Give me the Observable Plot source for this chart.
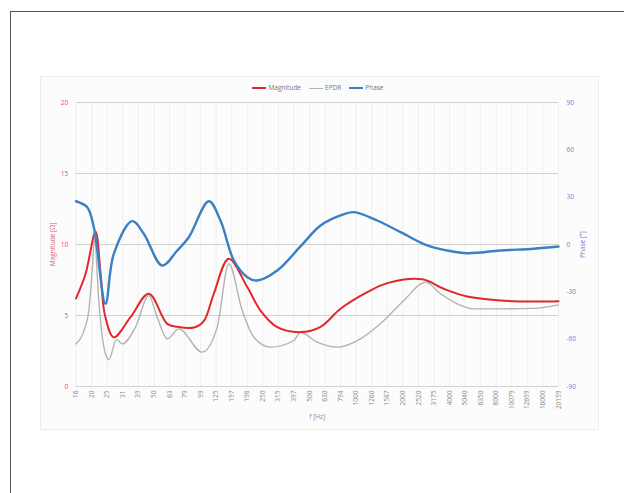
<!DOCTYPE html>
<html><head><meta charset="utf-8">
<script src="https://cdn.jsdelivr.net/npm/d3@7"></script>
<script src="https://cdn.jsdelivr.net/npm/@observablehq/plot@0.6"></script>
<style>
body{margin:0;background:#fff;}
#wrap{position:relative;width:624px;height:493px;overflow:hidden;font-family:"Open Sans",sans-serif;}
#frame{position:absolute;left:10px;top:11px;width:700px;height:600px;border-left:1px solid #555;border-top:1px solid #555;}
#panel{position:absolute;left:40px;top:76px;width:557px;height:352px;background:#fcfcfc;border:1px solid #ededed;}
#legend{position:absolute;top:84px;left:0;width:636px;display:flex;justify-content:center;gap:8px;font-size:6.5px;color:#777;line-height:8px;}
#legend span{display:inline-flex;align-items:center;gap:2px;}
#legend i{display:inline-block;width:14px;}
#chart{position:absolute;left:0;top:0;}
</style></head>
<body><div id="wrap"><div id="frame"></div><div id="panel"></div><div id="legend"></div><div id="chart"></div></div>
<script>
// x tick positions (1/3-octave frequencies) and their labels
const xTicks = [15.625,19.69,24.8,31.25,39.37,49.61,62.5,78.75,99.21,125,157.5,198.4,250,315,396.9,500,630,793.7,1000,1260,1587,2000,2520,3175,4000,5040,6350,8000,10079,12699,16000,20159];
const xTickLabels = ["16","20","25","31","39","50","63","79","99","125","157","198","250","315","397","500","630","794","1000","1260","1587","2000","2520","3175","4000","5040","6350","8000","10079","12699","16000","20159"];
const magTicks = [0,5,10,15,20];
const phaseTicks = [-90,-60,-30,0,30,60,90];
const seriesNames = ["Magnitude","EPDR","Phase"];
const seriesColors = ["#e3262c","#b3b3b3","#3a80c3"];

// Magnitude [Ω]
const magF = [15.6,17.95,20.86,22.45,24.0,27.35,35.05,45.98,60.45,70.2,90,104,120.7,150.8,198.4,241.5,309.5,437.3,589,792,1178,1585,2665,3673,5199,8516,13978,20159];
const magV = [6.2,7.9,10.9,8.0,5.0,3.47,4.88,6.53,4.41,4.2,4.15,4.6,6.53,9.0,7.0,5.35,4.18,3.83,4.2,5.47,6.64,7.28,7.55,6.88,6.34,6.06,5.98,6.0];

// EPDR [Ω]
const epdrF = [15.6,17.52,18.87,19.85,20.53,21.9,23.57,25.4,28.46,30.99,37.74,45.98,52.1,60.45,71.8,101.6,127,150.8,184.1,218.7,280.3,396,437.3,560.3,754.2,1066,1508,2028,2799,3500,4483,5735,8516,13978,20159];
const epdrV = [3.0,3.9,5.35,8.2,10.4,6.0,2.8,1.9,3.3,3.0,4.18,6.4,4.88,3.36,4.06,2.42,4.18,8.64,5.35,3.47,2.77,3.24,3.8,3.12,2.77,3.36,4.65,6.06,7.35,6.53,5.82,5.47,5.47,5.5,5.75];

// Phase [°]
const phaseF = [15.6,18.42,20.33,24.18,27.35,35.94,42.7,56.1,70.2,83.3,112.1,133.3,162.5,198.4,230,309.5,437.3,589,792,965.6,1366,1932,2867,3864,5199,8516,13978,20159];
const phaseV = [27.4,23.6,11,-37.6,-5.9,14.8,6.8,-13.3,-3.8,4.6,27.4,15.2,-10.1,-20.7,-22.8,-16.5,-1.2,12,18.4,20.5,15.2,7.8,-0.6,-3.8,-5.5,-3.8,-2.7,-1.3];

// band position (in 1/3-octave steps from the first tick)
const band = f => 3 * Math.log2(f / xTicks[0]);
const tickIdx = xTicks.map((f, i) => i);
const mag = magF.map((f,i)=>({t: band(f), v: magV[i]}));
const epdr = epdrF.map((f,i)=>({t: band(f), v: epdrV[i]}));
const phase = phaseF.map((f,i)=>({t: band(f), p: phaseV[i]}));
const toY = p => 10 + p/9;
const fmtPhase = d => { const p = Math.round((d-10)*9); return p < 0 ? "-" + (-p) : String(p); };

// legend
const leg = document.getElementById("legend");
seriesNames.forEach((n,i)=>{
  const s = document.createElement("span");
  const w = i===1 ? 1 : 2;
  s.innerHTML = `<i style="border-top:${w}px solid ${seriesColors[i]}"></i>${n}`;
  leg.appendChild(s);
});

const chart = Plot.plot({
  width: 624, height: 493,
  marginLeft: 75.6, marginRight: 66, marginTop: 102, marginBottom: 107,
  style: {background: "transparent", fontFamily: "Open Sans, sans-serif", fontSize: "6.5px"},
  x: {type: "linear", domain: [0, xTicks.length - 1]},
  y: {domain: [0, 20]},
  marks: [
    Plot.ruleX(tickIdx, {stroke: "#efefef", strokeWidth: 1}),
    Plot.ruleY(magTicks, {stroke: "#d2d2d2", strokeWidth: 1}),
    Plot.axisX({ticks: tickIdx, tickFormat: i => xTickLabels[i], tickRotate: -90, tickSize: 0, tickPadding: 4, fill: "#888", label: "f [Hz]", labelAnchor: "center", labelOffset: 32, labelArrow: "none"}),
    Plot.axisY({ticks: magTicks, tickSize: 0, tickPadding: 8, fill: "#e0506e", label: "Magnitude [Ω]", labelAnchor: "center", labelOffset: 26, labelArrow: "none"}),
    Plot.axisY({anchor: "right", ticks: phaseTicks.map(toY), tickFormat: fmtPhase, tickSize: 0, tickPadding: 8, fill: "#7a7ad0", label: "Phase [°]", labelAnchor: "center", labelOffset: 26, labelArrow: "none"}),
    Plot.line(epdr, {x: "t", y: "v", stroke: seriesColors[1], strokeWidth: 1.4, curve: "monotone-x"}),
    Plot.line(mag, {x: "t", y: "v", stroke: seriesColors[0], strokeWidth: 2, curve: "catmull-rom"}),
    Plot.line(phase, {x: "t", y: d => toY(d.p), stroke: seriesColors[2], strokeWidth: 2.4, curve: "catmull-rom"})
  ]
});
document.getElementById("chart").appendChild(chart);
</script></body></html>
